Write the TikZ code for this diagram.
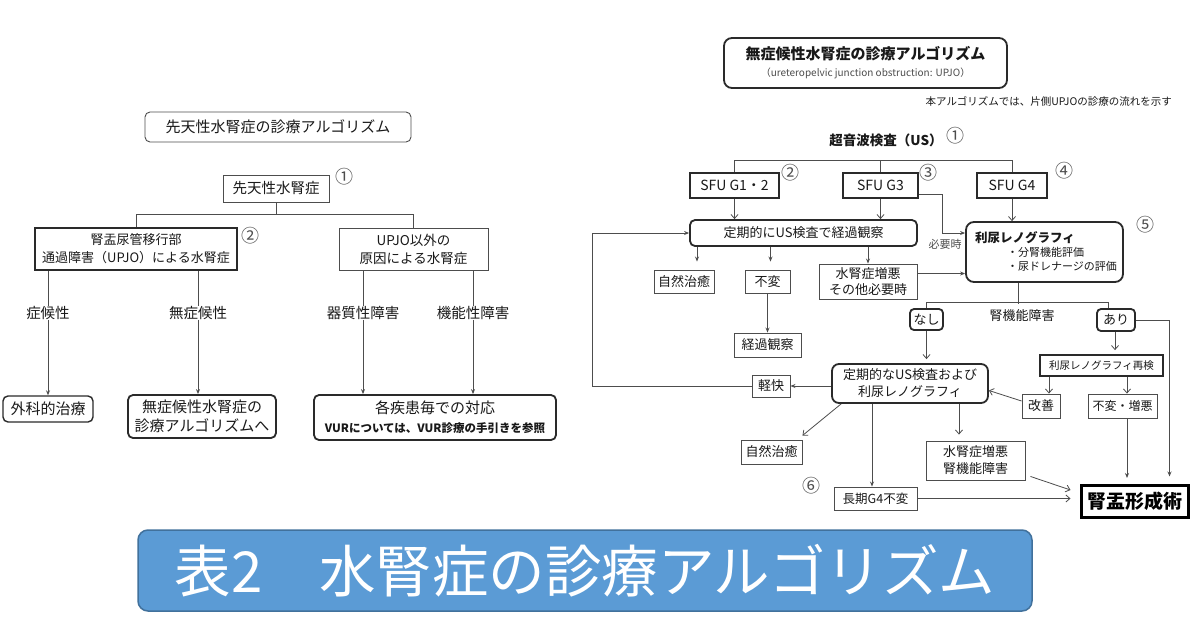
\documentclass[tikz,border=0pt]{standalone}
\usepackage{fontspec}
\setmainfont{Noto Sans CJK JP}
\usetikzlibrary{arrows.meta}
\definecolor{lnc}{HTML}{4D4D4D}
\definecolor{bdc}{HTML}{2A2A2A}
\definecolor{bnf}{HTML}{5B9BD5}
\definecolor{bnd}{HTML}{41719C}
\newcommand\fsz[2]{\fontsize{#1}{#2}\selectfont}
\newcommand\mkbox[7]{\node[#6, minimum width={#4pt-#2pt}, minimum height={#5pt-#3pt}] (#1) at ({(#2+#4)/2},{(#3+#5)/2}) {#7};}
\tikzset{
  thinbox/.style={draw=lnc, line width=0.9pt, inner sep=0pt, align=center, text=black!90},
  thickbox/.style={draw=bdc, line width=1.8pt, inner sep=0pt, align=center, text=black!90},
  rnd/.style={rounded corners=5pt},
  conn/.style={draw=lnc, line width=0.8pt},
  arr/.style={conn, -{Stealth[length=5pt,width=4pt]}},
  oarr/.style={conn, -{Straight Barb[length=4pt,width=7pt]}},
  lbl/.style={inner sep=0pt, align=center, text=black!90},
  num/.style={inner sep=0pt, text=lnc, font=\fsz{18}{20}},
}
\begin{document}
\begin{tikzpicture}[x=1pt,y=-1pt]
\fill[white] (0,0) rectangle (1200,619);
\useasboundingbox (0,0) rectangle (1200,619);

% ---------- left algorithm ----------
\mkbox{t1}{145}{112}{411}{142}{thinbox,rnd,font=\fsz{15}{18}}{先天性水腎症の診療アルゴリズム}
\mkbox{c1}{223}{175}{329}{202}{thinbox,font=\fsz{14.5}{17}}{先天性水腎症}
\node[num] (n1l) at (344,177) {①};
\mkbox{upjo}{35}{228}{237}{270}{thickbox,font=\fsz{13}{18}}{腎盂尿管移行部\\通過障害（UPJO）による水腎症}
\node[num] (n2l) at (250,236) {②};
\mkbox{oth}{339}{228}{488}{270}{thinbox,font=\fsz{13.5}{18}}{UPJO以外の\\原因による水腎症}
\node[lbl,font=\fsz{14.5}{17}] (sk) at (48,313) {症候性};
\node[lbl,font=\fsz{14.5}{17}] (ask) at (198,313) {無症候性};
\node[lbl,font=\fsz{14.5}{17}] (org) at (363,313) {器質性障害};
\node[lbl,font=\fsz{14.5}{17}] (fun) at (473,313) {機能性障害};
\mkbox{surg}{3}{396}{93}{422}{thickbox,rnd,line width=1.4pt,font=\fsz{15}{18}}{外科的治療}
\mkbox{asym}{128}{395}{276}{438}{thickbox,rnd,font=\fsz{15}{19}}{無症候性水腎症の\\診療アルゴリズムへ}
\mkbox{each}{314}{395}{556}{440}{thickbox,rnd,font=\fsz{15}{19}}{各疾患毎での対応\\{\bfseries\fsz{11.5}{19}VURについては、VUR診療の手引きを参照}}

\draw[conn] (c1.south) -- ++(0,13);
\draw[conn] (upjo.north) -- ++(0,-13) -| (oth.north);
\draw[conn] (sk.north |- upjo.south) -- (sk.north);
\draw[conn] (ask.north |- upjo.south) -- (ask.north);
\draw[conn] (org.north |- oth.south) -- (org.north);
\draw[conn] (fun.north |- oth.south) -- (fun.north);
\draw[arr] (sk.south) -- (sk.south |- surg.north);
\draw[arr] (ask.south) -- (ask.south |- asym.north);
\draw[arr] (org.south) -- (org.south |- each.north);
\draw[arr] (fun.south) -- (fun.south |- each.north);

% ---------- right algorithm ----------
\mkbox{t2}{724}{38}{1007}{88}{thickbox,rounded corners=8pt,font=\fsz{10}{17}}{{\bfseries\fsz{15}{18}無症候性水腎症の診療アルゴリズム}\\{\color{lnc}（ureteropelvic junction obstruction: UPJO）}}
\node[lbl,anchor=east,font=\fsz{10.5}{13}] (note) at (1172,101) {本アルゴリズムでは、片側UPJOの診療の流れを示す};
\node[lbl,font={\bfseries\fsz{13.5}{16}}] (us) at (886,140) {超音波検査（US）};
\node[num] (n1r) at (955,136) {①};

\mkbox{g12}{690}{173}{779}{198}{thickbox,font=\fsz{14}{17}}{SFU G1・2}
\node[num] (n2r) at (790,173) {②};
\mkbox{g3}{843}{173}{918}{198}{thickbox,font=\fsz{14}{17}}{SFU G3}
\node[num] (n3r) at (928,173) {③};
\mkbox{g4}{977}{173}{1047}{198}{thickbox,font=\fsz{14}{17}}{SFU G4}
\node[num] (n4r) at (1064,171) {④};
\draw[conn] (g12.north) -- ++(0,-12) -| (g4.north);
\draw[conn] (g3.north) -- ++(0,-12);

\mkbox{obs}{690}{220}{917}{246}{thickbox,rnd,font=\fsz{13}{16}}{定期的にUS検査で経過観察}
\mkbox{reno}{966}{222}{1123}{282}{thickbox,rounded corners=8pt}{}
\node[lbl,anchor=west,font={\bfseries\fsz{12.5}{15}}] (renoT) at (975,238) {利尿レノグラフィ};
\node[lbl,anchor=north west,align=left,font=\fsz{11}{14}] (renoB) at (1007,247) {・分腎機能評価\\・尿ドレナージの評価};
\node[num] (n5r) at (1145,225) {⑤};

\draw[oarr] (g12.south) -- (g12.south |- obs.north);
\draw[oarr] (g3.south) -- (g3.south |- obs.north);
\draw[oarr] (g4.south) -- (g4.south |- reno.north);
\coordinate (k1) at (942,233);
\draw[arr] ([yshift=5pt]g3.south east) -| (k1) -- (k1 -| reno.west);
\node[lbl,font=\fsz{11}{13},text=lnc] (need) at (945,244) {必要時};

\mkbox{shz1}{654}{270}{714}{293}{thinbox,font=\fsz{13}{16}}{自然治癒}
\mkbox{fuhen}{745}{270}{790}{293}{thinbox,font=\fsz{13}{16}}{不変}
\mkbox{keika}{734}{333}{801}{357}{thinbox,font=\fsz{13}{16}}{経過観察}
\mkbox{akka}{819}{264}{917}{299}{thinbox,font=\fsz{13}{16}}{水腎症増悪\\その他必要時}
\draw[arr] ([xshift=13pt]shz1.north |- obs.south) -- ([xshift=13pt,yshift=8pt]shz1.north);
\draw[arr] ([xshift=3pt]fuhen.north |- obs.south) -- ([xshift=3pt,yshift=8pt]fuhen.north);
\draw[arr] (akka.north |- obs.south) -- (akka.north);
\draw[arr] (fuhen.south) -- (fuhen.south |- keika.north);
\draw[arr] ([yshift=8pt]akka.east) -- ([yshift=8pt]akka.east -| reno.west);

\mkbox{nashi}{910}{309}{943}{330}{thickbox,rounded corners=4pt,font=\fsz{13}{16}}{なし}
\mkbox{ari}{1097}{309}{1135}{331}{thickbox,rounded corners=4pt,font=\fsz{13}{16}}{あり}
\node[lbl,font=\fsz{13}{16}] (jk) at (1022,316) {腎機能障害};
\draw[conn] ([xshift=-26.5pt]reno.south) -- ++(0,21);
\draw[conn] (nashi.north) -- ++(0,-6) -| ([xshift=-8pt]ari.north);

\mkbox{rescan}{1040}{355}{1163}{376}{thickbox,font=\fsz{10.5}{13}}{利尿レノグラフィ再検}
\mkbox{kaizen}{1022}{394}{1060}{418}{thinbox,font=\fsz{13}{16}}{改善}
\mkbox{fa}{1088}{394}{1157}{418}{thinbox,font=\fsz{12}{15}}{不変・増悪}
\mkbox{teiki}{832}{364}{988}{403}{thickbox,rounded corners=7pt,font=\fsz{13}{17}}{定期的なUS検査および\\利尿レノグラフィ}
\mkbox{keikai}{752}{375}{790}{397}{thinbox,font=\fsz{13}{16}}{軽快}
\mkbox{shz2}{741}{440}{802}{464}{thinbox,font=\fsz{13}{16}}{自然治癒}
\mkbox{akka2}{926}{441}{1025}{480}{thinbox,font=\fsz{13}{17}}{水腎症増悪\\腎機能障害}
\mkbox{choki}{834}{487}{917}{510}{thinbox,font=\fsz{12.5}{15}}{長期G4不変}
\node[num] (n6r) at (811,486) {⑥};
\mkbox{pyelo}{1081}{485}{1188}{517}{draw=black,line width=3pt,inner sep=0pt,font={\bfseries\fsz{19}{22}}}{腎盂形成術}

\draw[oarr] ([xshift=-1pt]ari.south) -- ([xshift=-1pt,yshift=4pt]ari.south |- rescan.north);
\draw[conn,-{Stealth[length=5pt,width=4pt]}] (ari.east) -| ([xshift=-20pt,yshift=7pt]pyelo.north east);
\draw[oarr] (rescan.south -| 1049,0) -- ([xshift=8pt]kaizen.north);
\draw[oarr] ([xshift=4.5pt]fa.north |- rescan.south) -- ([xshift=4.5pt]fa.north);
\draw[oarr] ([yshift=5pt]kaizen.west) -- ([yshift=-7pt]teiki.east);
\draw[oarr] (nashi.south) -- ([yshift=4pt]nashi.south |- teiki.north);
\draw[arr] (keikai.east -| teiki.west) -- (keikai.east);
\draw[arr] (keikai.west) -- ++(-159,0) |- (obs.west);
\draw[oarr] ([xshift=10pt]teiki.south west) -- ([yshift=4pt]shz2.north east);
\draw[arr] ([xshift=-3.5pt]choki.north |- teiki.south) -- ([xshift=-3.5pt]choki.north);
\draw[oarr] ([xshift=-16.5pt]akka2.north |- teiki.south) -- ([xshift=-16.5pt,yshift=6pt]akka2.north);
\draw[oarr] ([xshift=5pt,yshift=4pt]akka2.south east) -- ([xshift=-9pt,yshift=11pt]pyelo.west);
\draw[oarr] (choki.east) -- ([xshift=-9pt]pyelo.west |- choki.east);
\draw[arr] ([xshift=4.5pt]fa.south) -- ([xshift=4.5pt]fa.south |- 0,478);

% ---------- banner ----------
\mkbox{banner}{138}{530}{1032}{611}{fill=bnf,draw=bnd,line width=1.5pt,rounded corners=10pt,inner sep=0pt,text=white,font=\fsz{56.5}{60}}{表2　水腎症の診療アルゴリズム}
\end{tikzpicture}
\end{document}
